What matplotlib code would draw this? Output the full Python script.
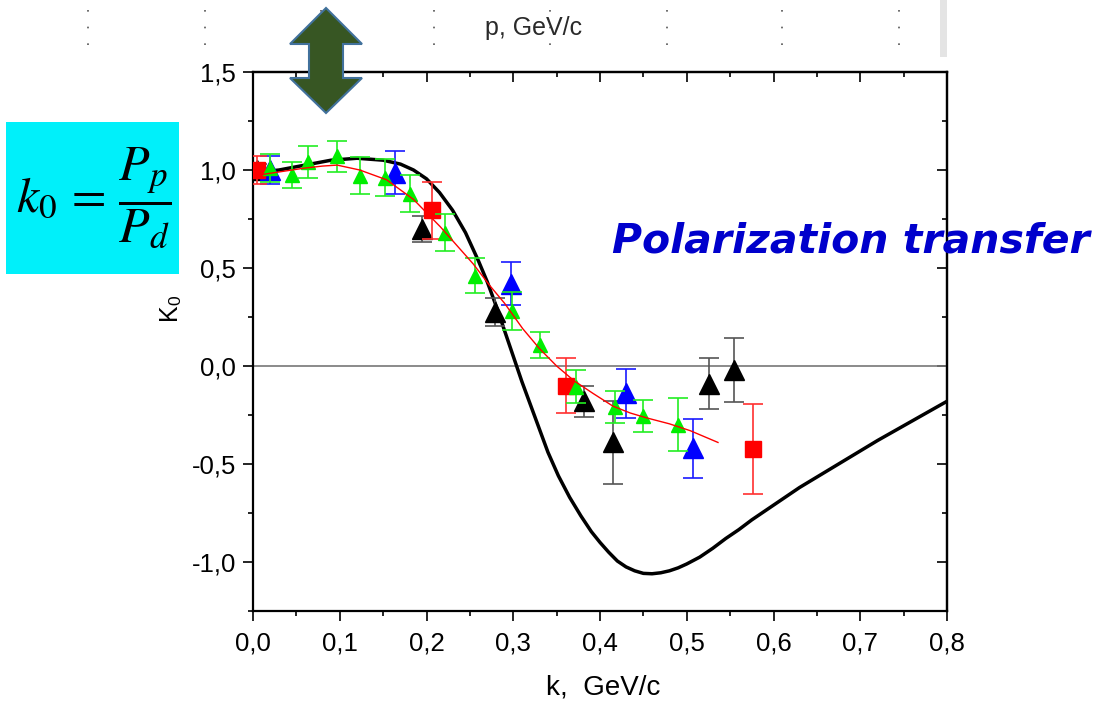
"""
K0 polarization transfer vs internal momentum k: data sets with error bars,
a thin red fit line and the black theory curve.
"""

import matplotlib
matplotlib.use('Agg')
import matplotlib.pyplot as plt
import matplotlib.patches as mpatches
from matplotlib.lines import Line2D
from matplotlib.ticker import MultipleLocator, FuncFormatter

plt.rcParams['font.family'] = ['Liberation Sans', 'DejaVu Sans']
plt.rcParams['mathtext.fontset'] = 'stix'

# theory curve (black)
theory_k = [0.0, 0.03, 0.06, 0.09, 0.12, 0.15, 0.17, 0.185, 0.2, 0.215, 0.23,
            0.245, 0.26, 0.27, 0.28, 0.29, 0.3, 0.31, 0.32, 0.33, 0.34, 0.352,
            0.365, 0.378, 0.39, 0.40, 0.41, 0.42, 0.43, 0.44, 0.45, 0.46, 0.47,
            0.48, 0.49, 0.50, 0.515, 0.53, 0.545, 0.56, 0.575, 0.59, 0.61,
            0.63, 0.66, 0.69, 0.72, 0.76, 0.80]
theory_k0 = [0.985, 1.0, 1.025, 1.05, 1.06, 1.05, 1.03, 1.0, 0.955, 0.885,
             0.795, 0.68, 0.535, 0.43, 0.31, 0.18, 0.05, -0.08, -0.2, -0.32,
             -0.44, -0.56, -0.67, -0.765, -0.845, -0.9, -0.95, -0.995, -1.025,
             -1.045, -1.058, -1.06, -1.055, -1.045, -1.03, -1.01, -0.975,
             -0.93, -0.88, -0.835, -0.785, -0.74, -0.68, -0.62, -0.54, -0.46,
             -0.38, -0.28, -0.18]

# fit through the data (thin red)
fit_k = [0.0, 0.03, 0.06, 0.08, 0.097, 0.123, 0.154, 0.185, 0.216, 0.235,
         0.254, 0.273, 0.29, 0.311, 0.33, 0.35, 0.37, 0.392, 0.415, 0.435,
         0.454, 0.48, 0.504, 0.52, 0.536]
fit_k0 = [0.97, 0.99, 1.01, 1.02, 1.025, 1.0, 0.95, 0.85, 0.71, 0.615, 0.52,
          0.41, 0.32, 0.19, 0.09, 0.0, -0.075, -0.14, -0.205, -0.24, -0.265,
          -0.295, -0.33, -0.36, -0.39]

green_k = [0.02, 0.045, 0.063, 0.097, 0.123, 0.152, 0.181, 0.221, 0.256, 0.299,
           0.331, 0.372, 0.417, 0.45, 0.49]
green_k0 = [1.01, 0.975, 1.04, 1.07, 0.97, 0.96, 0.88, 0.68, 0.46, 0.28, 0.107,
            -0.105, -0.21, -0.255, -0.30]
green_err = [0.07, 0.065, 0.08, 0.08, 0.095, 0.095, 0.095, 0.095, 0.09, 0.095,
             0.065, 0.083, 0.08, 0.08, 0.135]

blue_k = [0.02, 0.164, 0.297, 0.43, 0.507]
blue_k0 = [1.0, 0.985, 0.42, -0.14, -0.42]
blue_err = [0.07, 0.11, 0.11, 0.125, 0.15]

black_k = [0.005, 0.195, 0.279, 0.381, 0.415, 0.526, 0.555]
black_k0 = [1.0, 0.70, 0.275, -0.18, -0.39, -0.09, -0.02]
black_err = [0.03, 0.065, 0.07, 0.08, 0.21, 0.13, 0.165]

red_k = [0.005, 0.206, 0.361, 0.576]
red_k0 = [1.0, 0.795, -0.10, -0.425]
red_err = [0.07, 0.145, 0.14, 0.23]

W, H = 1099, 714


def fx(px):
    return px / W


def fy(py):
    return 1 - py / H


fig = plt.figure(figsize=(W / 100, H / 100), dpi=100)
ax = fig.add_axes([fx(253), fy(611), fx(947) - fx(253), fy(72) - fy(611)])

ax.axhline(0, color='#777777', lw=1.2, zorder=1)
ax.plot(theory_k, theory_k0, color='black', lw=2.5, zorder=2,
        solid_joinstyle='round')

eb = dict(capsize=7, elinewidth=1.2, capthick=1.2, linestyle='none')
ax.errorbar(black_k, black_k0, yerr=black_err, fmt='^', ms=14, color='black',
            ecolor='#555555', zorder=3, **eb)
ax.errorbar(blue_k, blue_k0, yerr=blue_err, fmt='^', ms=14, color='#0000ff',
            ecolor='#1a1aff', zorder=3, **eb)
ax.errorbar(red_k, red_k0, yerr=red_err, fmt='s', ms=11.5, color='#ff0000',
            ecolor='#ff3030', zorder=4, **eb)
ax.errorbar(green_k, green_k0, yerr=green_err, fmt='^', ms=10.5, color='#00ee00',
            ecolor='#22ee22', zorder=5, **eb)
ax.plot(fit_k, fit_k0, color='#ff0000', lw=1.0, zorder=6)

ax.set_xlim(0, 0.8)
ax.set_ylim(-1.25, 1.5)
ax.xaxis.set_major_locator(MultipleLocator(0.1))
ax.xaxis.set_minor_locator(MultipleLocator(0.05))
ax.yaxis.set_major_locator(MultipleLocator(0.5))
ax.yaxis.set_minor_locator(MultipleLocator(0.25))
comma = FuncFormatter(lambda v, p: f'{v:.1f}'.replace('.', ','))
ax.xaxis.set_major_formatter(comma)
ax.yaxis.set_major_formatter(comma)
ax.tick_params(which='major', direction='out', length=7, width=1.2,
               labelsize=18.5, pad=5)
ax.tick_params(which='minor', direction='out', length=3.5, width=1.2)
ax.tick_params(axis='x', pad=8)
for s in ax.spines.values():
    s.set_linewidth(1.6)

# top / right ticks point inward
top = ax.secondary_xaxis('top')
top.xaxis.set_major_locator(MultipleLocator(0.1))
top.xaxis.set_minor_locator(MultipleLocator(0.05))
top.tick_params(which='major', direction='in', length=7, width=1.2, labeltop=False)
top.tick_params(which='minor', direction='in', length=3.5, width=1.2)
top.spines['top'].set_linewidth(1.6)
right = ax.secondary_yaxis('right')
right.yaxis.set_major_locator(MultipleLocator(0.5))
right.yaxis.set_minor_locator(MultipleLocator(0.25))
right.tick_params(which='major', direction='in', length=7, width=1.2, labelright=False)
right.tick_params(which='minor', direction='in', length=3.5, width=1.2)
right.spines['right'].set_linewidth(1.6)

ax.set_xlabel('k,  GeV/c', fontsize=20)
ax.xaxis.set_label_coords(0.504, -0.118)
ax.set_ylabel(r'K$_\mathregular{0}$', fontsize=18)
ax.yaxis.set_label_coords(-0.10, 0.56)

# screenshot leftovers at the top: dotted column guides, grey bar, header
for px in [88, 205, 321, 434, 550, 667, 782, 899]:
    fig.add_artist(Line2D([fx(px), fx(px)], [fy(10), fy(58)], color='#555555',
                          lw=1.2, linestyle=(0, (1, 9)), transform=fig.transFigure))
fig.add_artist(mpatches.Rectangle((fx(940), fy(57)), fx(7), 57 / H,
                                  facecolor='#e4e4e4', edgecolor='none',
                                  transform=fig.transFigure))
fig.text(fx(534), fy(28), 'p, GeV/c', fontsize=18, color='#2a2a2a',
         ha='center', va='center')

# double arrow
arrow_px = [(326, 8), (362, 44), (343, 44), (343, 78), (362, 78), (326, 113),
            (290, 78), (309, 78), (309, 44), (290, 44)]
fig.add_artist(mpatches.Polygon([(fx(x), fy(y)) for x, y in arrow_px],
                                closed=True, facecolor='#375623',
                                edgecolor='#41719c', lw=1.5,
                                transform=fig.transFigure, zorder=10))

# formula box
fig.add_artist(mpatches.Rectangle((fx(6), fy(274)), fx(173), 152 / H,
                                  facecolor='#00f0fa', edgecolor='none',
                                  transform=fig.transFigure))
fig.text(fx(94), fy(198), r'$k_0\,=\,\dfrac{P_p}{P_d}$', fontsize=36,
         ha='center', va='center')

fig.text(fx(612), fy(252), 'Polarization transfer', fontsize=29.5,
         color='#0000cc', fontweight='bold', style='italic',
         family=['DejaVu Sans'], ha='left', va='baseline', zorder=20)

fig.savefig('out.png', dpi=100)
